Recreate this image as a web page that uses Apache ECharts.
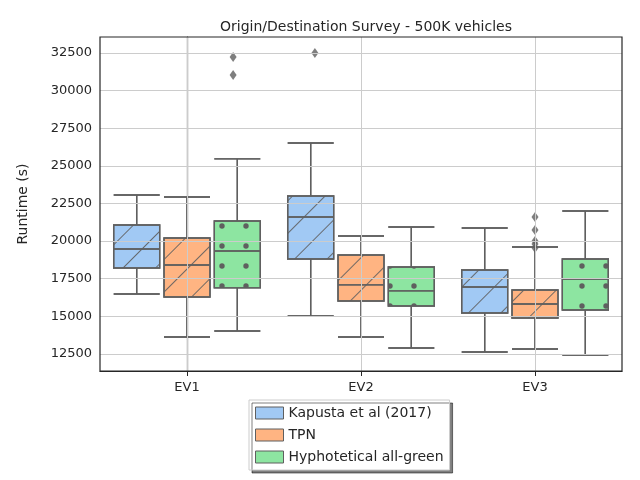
<!DOCTYPE html><html><head><meta charset="utf-8"><script src="https://cdn.jsdelivr.net/npm/echarts@6/dist/echarts.min.js"></script></head><body style="margin:0"><div id="c" style="width:640px;height:480px"></div><script>
const categories=['EV1','EV2','EV3'];
const seriesNames=['Kapusta et al (2017)','TPN','Hyphotetical all-green'];
// [low, Q1, median, Q3, high]
const kapusta=[[16490,18210,19480,21070,23060],[15030,18810,21600,23000,26520],[12630,15220,16950,18080,20870]];
const tpn=[[13630,16290,18410,20210,22930],[13630,16020,17090,19080,20340],[12830,14890,15820,16750,19610]];
const green=[[14030,16890,19340,21340,25460],[12900,15690,16690,18280,20940],[12430,15420,17480,18810,22000]];
// outliers [categoryIndex, seriesIndex, value]
const outliers=[[0,2,32230],[0,2,31040],[1,0,32500],[2,1,21600],[2,1,20740],[2,1,20010],[2,1,19810],[2,1,19540]];
const yTicks=[12500,15000,17500,20000,22500,25000,27500,30000,32500];
const colors=['#a1c9f4','#ffb482','#8de5a1'];
const edge='#5f5f5f';
const decals=[
 {symbol:'rect',symbolSize:1,dashArrayX:[1,0],dashArrayY:[1,22],rotation:-Math.PI/4,color:'rgba(95,95,95,0.9)'},
 {symbol:'rect',symbolSize:1,dashArrayX:[1,0],dashArrayY:[1,22],rotation:-Math.PI/4,color:'rgba(95,95,95,0.9)'},
 {symbol:'circle',symbolSize:0.45,dashArrayX:[[12,12]],dashArrayY:[12,8],rotation:0,color:'rgba(95,95,95,1)'}];
const data=[kapusta,tpn,green];
const ch=echarts.init(document.getElementById('c'));
const series=seriesNames.map((n,i)=>({name:n,type:'boxplot',data:data[i],boxWidth:[46,46],z:3,
 itemStyle:{color:colors[i],borderColor:edge,borderWidth:1.4,decal:decals[i]},
 emphasis:{disabled:true}}));
series.push({type:'scatter',xAxisIndex:1,data:outliers.map(o=>[o[0]+(o[1]-1)*0.265,o[2]]),symbol:'diamond',symbolSize:[7,10],itemStyle:{color:'#5f5f5f'},z:4,
 markLine:{silent:true,symbol:'none',label:{show:false},lineStyle:{color:'#cccccc',type:'solid',width:1},
  data:yTicks.map(v=>({yAxis:v})).concat(categories.map((c,i)=>({xAxis:i})))}});
ch.setOption({
 animation:false,
 title:{text:'Origin/Destination Survey - 500K vehicles',left:361,top:15,textAlign:'center',textStyle:{fontFamily:'DejaVu Sans',fontSize:14,fontWeight:'normal',color:'#262626'}},
 grid:{left:100,right:18,top:37,bottom:109},
 legend:{orient:'vertical',left:249,top:400,data:seriesNames.map((n,i)=>({name:n,itemStyle:{color:colors[i],borderColor:edge,borderWidth:1,decal:'none'}})),
  itemWidth:28,itemHeight:12,itemGap:8,padding:[6,6,6,6],
  borderColor:'#cccccc',borderWidth:1,backgroundColor:'#fff',shadowColor:'rgba(0,0,0,0.5)',shadowOffsetX:3,shadowOffsetY:3,shadowBlur:0,
  textStyle:{fontFamily:'DejaVu Sans',fontSize:14,color:'#262626'},icon:'rect'},
 xAxis:[{type:'category',data:categories,axisLine:{lineStyle:{color:'#262626',width:1.2}},axisTick:{show:true,alignWithLabel:true,length:5,lineStyle:{color:'#262626'}},
  axisLabel:{fontFamily:'DejaVu Sans',fontSize:13,color:'#262626',margin:10},splitLine:{show:false}},
  {type:'value',min:-0.5,max:2.5,show:false}],
 yAxis:{type:'value',min:11370,max:33560,name:'Runtime (s)',nameLocation:'middle',nameGap:70,nameTextStyle:{fontFamily:'DejaVu Sans',fontSize:14,color:'#262626'},
  axisLine:{show:true,lineStyle:{color:'#262626',width:1.2}},axisTick:{show:true,length:5,customValues:yTicks,lineStyle:{color:'#262626'}},
  axisLabel:{customValues:yTicks,formatter:v=>String(v),fontFamily:'DejaVu Sans',fontSize:13,color:'#262626',margin:8},splitLine:{show:false}},
 graphic:[{type:'rect',shape:{x:100,y:37,width:522,height:334},style:{fill:'none',stroke:'#262626',lineWidth:1.2},silent:true,z:10}],
 series
});
</script></body></html>
